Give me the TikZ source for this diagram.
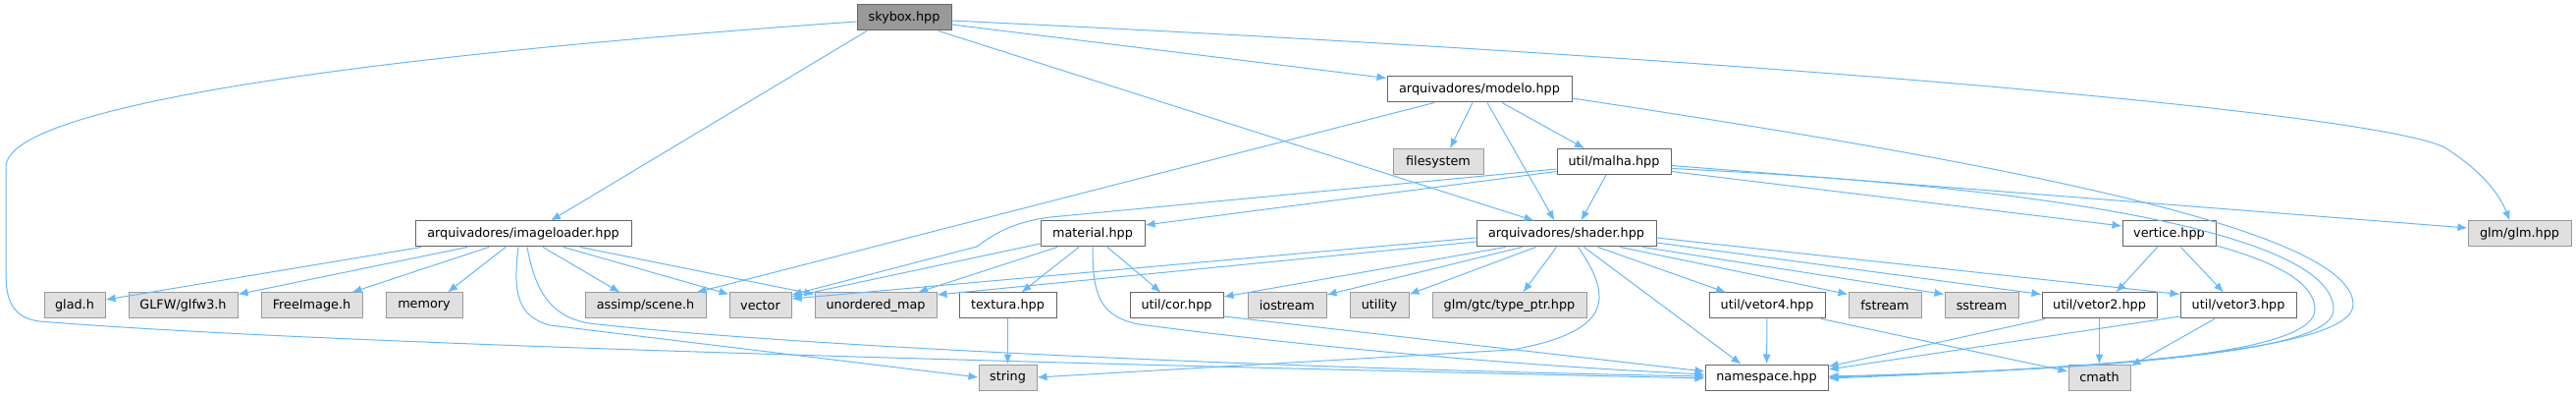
\documentclass[tikz,border=0pt]{standalone}
\usepackage{fontspec}
\usepackage{xcolor}
\usepackage{tikz}
\usetikzlibrary{arrows.meta, positioning, calc}
\newfontfamily\graphfont{DejaVu Sans}
\definecolor{edgeblue}{HTML}{63B8FF}
\definecolor{docborder}{HTML}{666666}
\definecolor{extborder}{HTML}{999999}
\definecolor{extfill}{HTML}{E0E0E0}
\definecolor{rootfill}{HTML}{999999}

\begin{document}
\begin{tikzpicture}[
    x=1pt, y=-1pt,
    file/.style={rectangle, draw=docborder, line width=1pt, fill=white, minimum height=26pt, inner sep=0pt, font=\graphfont\fontsize{12.8}{15}\selectfont},
    extfile/.style={file, draw=extborder, fill=extfill},
    rootfile/.style={file, fill=rootfill},
    line/.style={draw=edgeblue, line width=1pt, -{Latex[length=10pt, width=8pt]}}
]
    \useasboundingbox (0,0) rectangle (2624,403);

    % Nodes
    \node [rootfile, minimum width=96pt] (skybox) at (921,18) {skybox.hpp};
    \node [file, minimum width=188pt] (modelo) at (1507,91) {arquivadores/modelo.hpp};
    \node [extfile, minimum width=92pt] (filesystem) at (1465,164.5) {filesystem};
    \node [file, minimum width=116pt] (malha) at (1644,164.5) {util/malha.hpp};
    \node [file, minimum width=220pt] (imageloader) at (533,238) {arquivadores/imageloader.hpp};
    \node [file, minimum width=106pt] (material) at (1113,238) {material.hpp};
    \node [file, minimum width=183pt] (shader) at (1595.5,238) {arquivadores/shader.hpp};
    \node [file, minimum width=95pt] (vertice) at (2209.5,238) {vertice.hpp};
    \node [extfile, minimum width=105pt] (glm) at (2566.5,238) {glm/glm.hpp};
    \node [extfile, minimum width=62pt] (glad) at (76,311) {glad.h};
    \node [extfile, minimum width=111pt] (glfw) at (186.5,311) {GLFW/glfw3.h};
    \node [extfile, minimum width=103pt] (freeimage) at (317.5,311) {FreeImage.h};
    \node [extfile, minimum width=78pt] (memory) at (432,311) {memory};
    \node [extfile, minimum width=123pt] (assimp) at (657.5,311) {assimp/scene.h};
    \node [extfile, minimum width=63pt] (vector) at (774.5,311) {vector};
    \node [extfile, minimum width=124pt] (umap) at (892,311) {unordered\_map};
    \node [file, minimum width=99pt] (textura) at (1026.5,311) {textura.hpp};
    \node [file, minimum width=95pt] (cor) at (1198.5,311) {util/cor.hpp};
    \node [extfile, minimum width=80pt] (iostream) at (1311,311) {iostream};
    \node [extfile, minimum width=60pt] (utility) at (1405,311) {utility};
    \node [extfile, minimum width=157pt] (typeptr) at (1537.5,311) {glm/gtc/type\_ptr.hpp};
    \node [file, minimum width=118pt] (vetor4) at (1800,311) {util/vetor4.hpp};
    \node [extfile, minimum width=74pt] (fstream) at (1920,311) {fstream};
    \node [extfile, minimum width=75pt] (sstream) at (2018.5,311) {sstream};
    \node [file, minimum width=117pt] (vetor2) at (2138.5,311) {util/vetor2.hpp};
    \node [file, minimum width=118pt] (vetor3) at (2280,311) {util/vetor3.hpp};
    \node [extfile, minimum width=59pt] (string) at (1026.5,384) {string};
    \node [file, minimum width=125pt] (namespace) at (1799.5,384) {namespace.hpp};
    \node [extfile, minimum width=63pt] (cmath) at (2138.5,384) {cmath};

    % Paths from skybox.hpp
    \path [line] ([yshift=-4pt]skybox.west) .. controls (400,55) and (6,105) .. (6,170) -- (6,280) .. controls (6,312) and (18,324) .. (40,327) .. controls (300,348) and (900,366) .. ([yshift=-1pt]namespace.west);
    \path [line] ([xshift=-38pt]skybox.south) -- ([xshift=28pt]imageloader.north);
    \path [line] ([xshift=35pt]skybox.south) -- ([xshift=-33pt]shader.north);
    \path [line] ([yshift=-7pt]skybox.east) -- ([yshift=-2pt]modelo.north west);
    \path [line] ([yshift=-3pt]skybox.east) .. controls (1800,60) and (2420,115) .. (2490,150) .. controls (2525,172) and (2545,195) .. ([xshift=-10pt]glm.north);

    % Paths from modelo.hpp
    \path [line] ([xshift=-46pt]modelo.south) -- ([xshift=52pt]assimp.north);
    \path [line] ([xshift=-7pt]modelo.south) -- ([xshift=12pt]filesystem.north);
    \path [line] ([xshift=8pt]modelo.south) -- ([xshift=-12pt]shader.north);
    \path [line] ([xshift=23pt]modelo.south) -- ([xshift=-30pt]malha.north);
    \path [line] ([yshift=-9pt]modelo.east) .. controls (2000,160) and (2397,230) .. (2397,310) .. controls (2397,352) and (2200,372) .. ([yshift=-1pt]namespace.east);

    % Paths from util/malha.hpp
    \path [line] ([yshift=-7.5pt]malha.west) -- (1070,221) .. controls (1030,226) and (1010,240) .. (995,251) -- ([yshift=11pt]vector.east);
    \path [line] ([yshift=-10pt]malha.west) -- ([yshift=9pt]material.east);
    \path [line] ([xshift=-8pt]malha.south) -- ([xshift=15pt]shader.north);
    \path [line] ([yshift=-10pt]malha.east) -- ([yshift=8pt]vertice.west);
    \path [line] ([yshift=-4pt]malha.east) -- ([yshift=6pt]glm.west);
    \path [line] ([yshift=-7pt]malha.east) .. controls (2100,190) and (2377,240) .. (2377,315) .. controls (2377,355) and (2200,373) .. (namespace.east);

    % Paths from material.hpp
    \path [line] ([yshift=-10pt]material.west) -- ([yshift=9pt]vector.east);
    \path [line] ([xshift=-36pt]material.south) -- ([xshift=43pt]umap.north);
    \path [line] ([xshift=-14pt]material.south) -- ([xshift=14pt]textura.north);
    \path [line] ([xshift=15pt]material.south) -- ([xshift=-16pt]cor.north);
    \path [line] (material.south) .. controls (1113,300) and (1120,322) .. (1160,330) .. controls (1350,355) and (1550,372) .. ([yshift=3pt]namespace.west);
    \path [line] (textura) -- (string);
    \path [line] ([yshift=-11pt]cor.east) -- ([yshift=6pt]namespace.west);

    % Paths from arquivadores/shader.hpp
    \path [line] ([yshift=-4pt]shader.west) -- ([yshift=7pt]vector.east);
    \path [line] ([yshift=-8pt]shader.west) -- ([yshift=11pt]umap.east);
    \path [line] ([xshift=-62pt]shader.south) -- ([yshift=9pt]cor.east);
    \path [line] ([xshift=-45pt]shader.south) -- ([yshift=11pt]iostream.east);
    \path [line] ([xshift=-31pt]shader.south) -- ([yshift=-2pt]utility.north east);
    \path [line] ([xshift=-10pt]shader.south) -- ([xshift=14pt]typeptr.north);
    \path [line] ([xshift=12pt]shader.south) .. controls (1645,305) and (1640,338) .. (1540,356) -- (string.east);
    \path [line] ([xshift=18pt]shader.south) -- ([xshift=-26pt]namespace.north);
    \path [line] ([xshift=32pt]shader.south) -- ([xshift=-42pt]vetor4.north);
    \path [line] ([xshift=55pt]shader.south) -- ([yshift=-2pt]fstream.north west);
    \path [line] ([xshift=78pt]shader.south) -- ([yshift=-2pt]sstream.north west);
    \path [line] ([yshift=-9pt]shader.east) -- ([yshift=-2pt]vetor2.north west);
    \path [line] ([yshift=-4pt]shader.east) -- ([yshift=-2pt]vetor3.north west);

    % Paths from arquivadores/imageloader.hpp
    \path [line] ([xshift=-104pt]imageloader.south) -- ([yshift=6pt]glad.east);
    \path [line] ([xshift=-57pt]imageloader.south) -- ([yshift=-2pt]glfw.north east);
    \path [line] ([xshift=-35pt]imageloader.south) -- ([xshift=41pt]freeimage.north);
    \path [line] ([xshift=-18pt]imageloader.south) -- ([xshift=24pt]memory.north);
    \path [line] ([xshift=-5pt]imageloader.south) .. controls (522,300) and (528,322) .. (560,331) -- (string.west);
    \path [line] ([xshift=4pt]imageloader.south) .. controls (545,295) and (560,322) .. (600,329) .. controls (800,352) and (1300,375) .. ([yshift=1pt]namespace.west);
    \path [line] ([xshift=20pt]imageloader.south) -- ([xshift=-26pt]assimp.north);
    \path [line] ([xshift=41pt]imageloader.south) -- ([yshift=-2pt]vector.north west);
    \path [line] ([xshift=58pt]imageloader.south) -- ([yshift=-2pt]umap.north west);

    % Paths from vertice.hpp and util/vetor*.hpp
    \path [line] ([xshift=-12pt]vertice.south) -- ([xshift=17pt]vetor2.north);
    \path [line] ([xshift=12pt]vertice.south) -- ([xshift=-15pt]vetor3.north);
    \path [line] ([yshift=-12pt]vertice.east) .. controls (2330,270) and (2358,292) .. (2358,315) .. controls (2358,360) and (2150,376) .. ([yshift=1pt]namespace.east);
    \path [line] (vetor4) -- (namespace);
    \path [line] ([xshift=55pt]vetor4.south) -- ([yshift=6pt]cmath.west);
    \path [line] ([xshift=-55pt]vetor2.south) -- ([yshift=11pt]namespace.east);
    \path [line] (vetor2) -- (cmath);
    \path [line] ([yshift=-11pt]vetor3.west) -- ([yshift=8pt]namespace.east);
    \path [line] ([xshift=-24pt]vetor3.south) -- ([yshift=-2pt]cmath.north east);
\end{tikzpicture}
\end{document}
